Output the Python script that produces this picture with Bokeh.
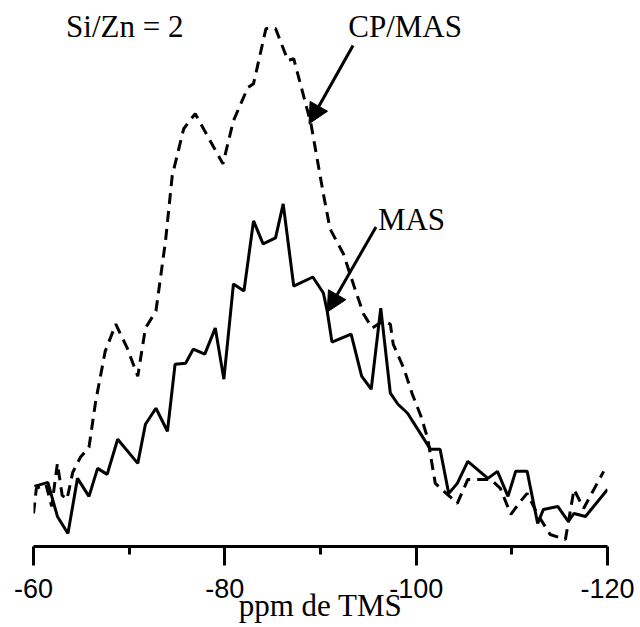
from bokeh.plotting import figure
from bokeh.models import Range1d, FixedTicker, Label, Arrow, NormalHead
from bokeh.embed import file_html
from bokeh.resources import INLINE

# Chemical shift (ppm vs TMS) and intensity (arbitrary units)
mas_ppm = [-60.1, -61.5, -62.5, -63.6, -64.6, -65.8, -66.7, -67.7, -68.8, -70.9,
           -71.7, -72.8, -74.0, -74.8, -75.9, -76.7, -77.9, -79.0, -79.9, -80.9,
           -82.0, -83.0, -84.0, -85.3, -86.1, -87.2, -89.2, -90.3, -90.7, -91.2,
           -93.2, -94.3, -95.3, -96.3, -97.3, -98.1, -99.1, -101.5, -102.5, -103.4,
           -104.3, -105.4, -107.5, -108.5, -109.6, -110.4, -111.6, -112.7, -113.3, -114.8,
           -115.9, -116.5, -117.7, -120.0]
mas_int = [60, 64, 30, 13, 68, 50, 78, 72, 107, 83,
           122, 138, 115, 182, 183, 197, 192, 218, 167, 262,
           255, 325, 302, 308, 342, 260, 269, 253, 235, 204,
           212, 170, 157, 238, 153, 142, 133, 97, 97, 53,
           63, 85, 68, 75, 50, 75, 75, 23, 37, 40,
           25, 33, 30, 57]

cpmas_ppm = [-60.0, -60.3, -61.3, -61.9, -62.5, -63.0, -63.5, -64.1, -64.9, -65.8,
             -66.5, -67.5, -68.6, -69.8, -70.9, -71.7, -72.8, -73.8, -74.5, -75.7,
             -76.9, -79.8, -80.9, -82.4, -83.0, -84.3, -85.3, -86.6, -87.2, -89.0,
             -90.3, -91.0, -92.4, -93.5, -94.5, -95.4, -96.5, -97.3, -97.6, -98.7,
             -99.6, -100.5, -101.2, -102.0, -104.3, -105.4, -106.5, -107.8, -108.8, -109.9,
             -110.9, -111.6, -112.7, -114.0, -115.6, -116.5, -117.5, -119.6]
cpmas_int = [33, 58, 62, 40, 83, 51, 47, 74, 89, 99,
             145, 195, 222, 198, 170, 218, 235, 305, 370, 417,
             432, 382, 425, 458, 462, 517, 517, 485, 487, 422,
             352, 317, 292, 260, 232, 218, 225, 222, 202, 178,
             152, 130, 108, 63, 43, 67, 67, 67, 58, 32,
             45, 53, 32, 12, 7, 57, 38, 75]

tick_values = [-60, -80, -100, -120]
tick_labels = ["-60", "-80", "-100", "-120"]
minor_values = [-70, -90, -110]

p = figure(width=640, height=625, output_backend="svg", toolbar_location=None,
           x_range=Range1d(-60, -120), y_range=Range1d(0, 545),
           y_axis_location=None, min_border_left=33, min_border_right=33,
           min_border_top=0, min_border_bottom=0)
p.outline_line_color = None
p.xgrid.visible = False
p.ygrid.visible = False
p.background_fill_color = "white"
p.border_fill_color = "white"

ax = p.xaxis[0]
ax.ticker = FixedTicker(ticks=tick_values, minor_ticks=minor_values)
ax.major_label_overrides = {v: s for v, s in zip(tick_values, tick_labels)}
ax.axis_line_width = 3
ax.axis_line_color = "black"
ax.major_tick_in = 0
ax.major_tick_out = 19
ax.minor_tick_in = 0
ax.minor_tick_out = 8
ax.major_tick_line_width = 3
ax.minor_tick_line_width = 3
ax.major_tick_line_color = "black"
ax.minor_tick_line_color = "black"
ax.major_label_text_font = "Liberation Sans"
ax.major_label_text_font_size = "27px"
ax.major_label_text_color = "black"
ax.major_label_standoff = 13
ax.axis_label = "ppm de TMS"
ax.axis_label_text_font = "Liberation Serif"
ax.axis_label_text_font_size = "31px"
ax.axis_label_text_font_style = "normal"
ax.axis_label_text_color = "black"
ax.axis_label_standoff = -13

p.line(cpmas_ppm, cpmas_int, line_color="black", line_width=3, line_dash="11 7")
p.line(mas_ppm, mas_int, line_color="black", line_width=3)

font = "Liberation Serif"
for txt, x, y in [("Si/Zn = 2", -63.4, 519), ("CP/MAS", -92.9, 519), ("MAS", -96.0, 326)]:
    p.add_layout(Label(x=x, y=y, text=txt, text_font=font, text_font_size="31px",
                       text_color="black", text_baseline="alphabetic", text_align="left"))

for xs, ys, xe, ye in [(-93.4, 500, -88.8, 422), (-95.8, 319, -90.7, 234)]:
    p.add_layout(Arrow(end=NormalHead(size=20, fill_color="black", line_color="black"),
                       x_start=xs, y_start=ys, x_end=xe, y_end=ye,
                       line_width=3, line_color="black"))

open("out.html", "w").write(file_html(p, INLINE))
